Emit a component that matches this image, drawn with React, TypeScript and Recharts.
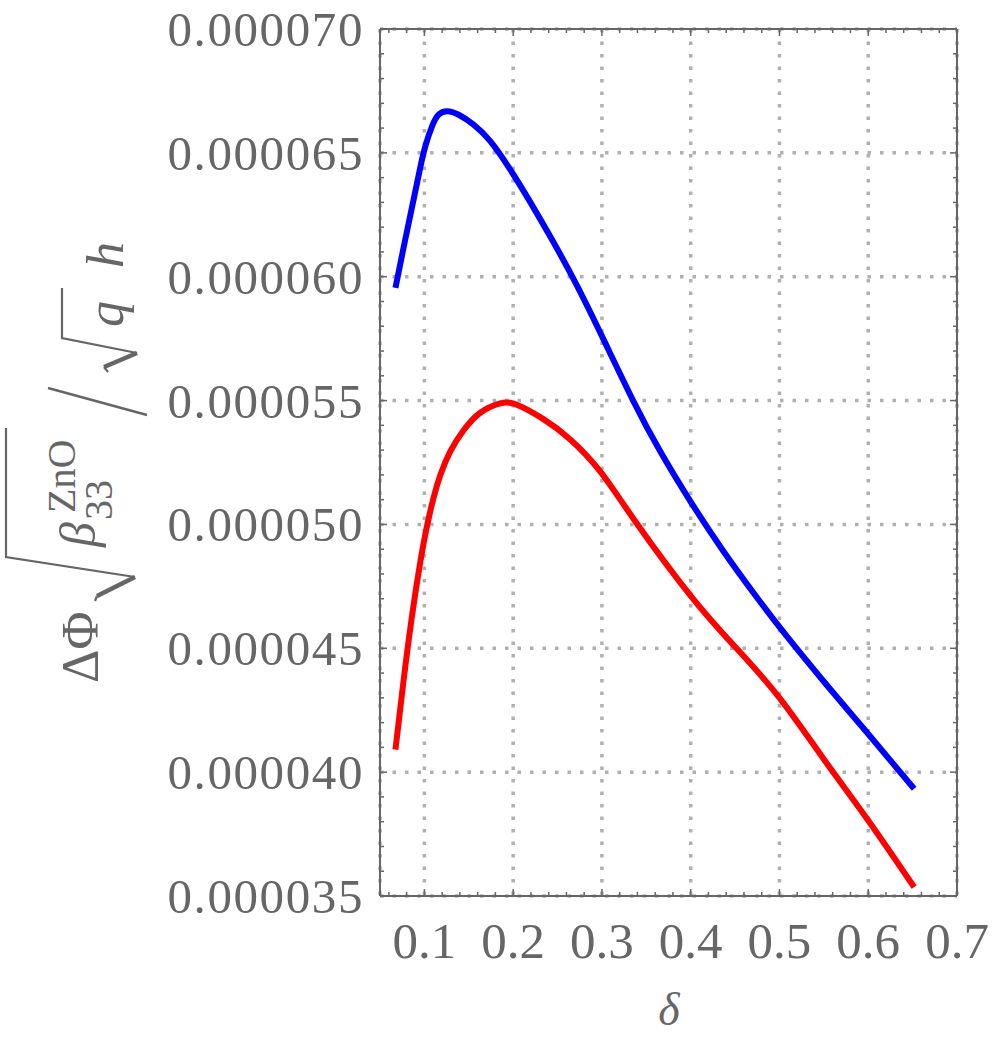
import { LineChart, Line, XAxis, YAxis, CartesianGrid } from "recharts"

// δ positions and values
const blueDelta = [0.0674, 0.0767, 0.088, 0.0955, 0.1011, 0.1086, 0.116, 0.1255, 0.1386, 0.1554, 0.1742, 0.1966, 0.2191, 0.2453, 0.2716, 0.3015, 0.335, 0.365, 0.399, 0.4363, 0.4738, 0.5075, 0.5525, 0.5974, 0.6517]
const blueValue = [59.55e-6, 61.2e-6, 63.14e-6, 64.43e-6, 65.27e-6, 66.07e-6, 66.54e-6, 66.68e-6, 66.54e-6, 66.14e-6, 65.47e-6, 64.33e-6, 63.02e-6, 61.4e-6, 59.66e-6, 57.49e-6, 55.01e-6, 52.99e-6, 50.97e-6, 48.95e-6, 47.09e-6, 45.52e-6, 43.55e-6, 41.65e-6, 39.33e-6]

const redDelta = [0.0674, 0.0767, 0.0862, 0.0955, 0.103, 0.1105, 0.118, 0.1292, 0.1442, 0.1629, 0.1854, 0.2042, 0.2341, 0.264, 0.2978, 0.3375, 0.4, 0.4513, 0.5, 0.55, 0.6, 0.6517]
const redValue = [40.91e-6, 43.74e-6, 46.34e-6, 48.5e-6, 49.94e-6, 51.1e-6, 52.0e-6, 52.95e-6, 53.8e-6, 54.51e-6, 54.89e-6, 54.83e-6, 54.25e-6, 53.44e-6, 52.15e-6, 50.13e-6, 47.12e-6, 45.01e-6, 43.0e-6, 40.52e-6, 38.05e-6, 35.36e-6]

const xTicks = [0.1, 0.2, 0.3, 0.4, 0.5, 0.6, 0.7]
const yTicks = [35e-6, 40e-6, 45e-6, 50e-6, 55e-6, 60e-6, 65e-6, 70e-6]
const xMinorTicks = [0.06, 0.08, 0.1, 0.12, 0.14, 0.16, 0.18, 0.2, 0.22, 0.24, 0.26, 0.28, 0.3, 0.32, 0.34, 0.36, 0.38, 0.4, 0.42, 0.44, 0.46, 0.48, 0.5, 0.52, 0.54, 0.56, 0.58, 0.6, 0.62, 0.64, 0.66, 0.68, 0.7]
const yMinorTicks = [35e-6, 36e-6, 37e-6, 38e-6, 39e-6, 40e-6, 41e-6, 42e-6, 43e-6, 44e-6, 45e-6, 46e-6, 47e-6, 48e-6, 49e-6, 50e-6, 51e-6, 52e-6, 53e-6, 54e-6, 55e-6, 56e-6, 57e-6, 58e-6, 59e-6, 60e-6, 61e-6, 62e-6, 63e-6, 64e-6, 65e-6, 66e-6, 67e-6, 68e-6, 69e-6, 70e-6]

const blueData = blueDelta.map((d, i) => ({ d, v: blueValue[i] }))
const redData = redDelta.map((d, i) => ({ d, v: redValue[i] }))

const TEXT = "#666666"
const serif = { fontFamily: "'Liberation Serif', 'DejaVu Serif', serif" }
const xDomain = [0.05, 0.7]
const yDomain = [35e-6, 70e-6]

const isMajorX = (v: number) => Math.abs(v * 10 - Math.round(v * 10)) < 1e-6
const isMajorY = (v: number) => Math.abs(v * 2e5 - Math.round(v * 2e5)) < 1e-6

// small inward frame ticks, longer on major values
function frameTick(side: string) {
  return (props: any) => {
    const { x, y, payload } = props
    const major = side === "bottom" || side === "top" ? isMajorX(payload.value) : isMajorY(payload.value)
    const len = major ? 7 : 4
    let x2 = x
    let y2 = y
    if (side === "bottom") y2 = y - len
    if (side === "top") y2 = y + len
    if (side === "left") x2 = x + len
    if (side === "right") x2 = x - len
    return <line x1={x} y1={y} x2={x2} y2={y2} stroke={TEXT} strokeWidth={1.5} />
  }
}

const xLabelTick = (props: any) => (
  <text x={props.x} y={props.y + 61} textAnchor="middle" fill={TEXT} style={serif} fontSize={51}>
    {Number(props.payload.value).toFixed(1)}
  </text>
)

const yLabelTick = (props: any) => (
  <text x={props.x - 15} y={props.y + 17} textAnchor="end" fill={TEXT} style={serif} fontSize={49} letterSpacing={1.6}>
    {Number(props.payload.value).toFixed(6)}
  </text>
)

function YLabel() {
  return (
    <g transform="translate(98,683) rotate(-90)" fill={TEXT} style={serif}>
      <text x={0} y={0} fontSize={52}>ΔΦ</text>
      <path d="M 82 -3 L 87 -1" stroke={TEXT} strokeWidth={2.2} fill="none" />
      <path d="M 87 -1 L 106 37" stroke={TEXT} strokeWidth={4.5} fill="none" />
      <path d="M 106 37 L 126 -92 L 255 -92" stroke={TEXT} strokeWidth={2.2} fill="none" />
      <text x={136} y={-3} fontSize={50} fontStyle="italic">β</text>
      <text x={163} y={14} fontSize={40}>33</text>
      <text x={170} y={-23} fontSize={40}>ZnO</text>
      <path d="M 268 49 L 295 -50" stroke={TEXT} strokeWidth={2.5} fill="none" />
      <path d="M 311 10 L 316 6" stroke={TEXT} strokeWidth={2.2} fill="none" />
      <path d="M 316 6 L 330 39" stroke={TEXT} strokeWidth={4.5} fill="none" />
      <path d="M 330 39 L 345 -36 L 395 -36" stroke={TEXT} strokeWidth={2.2} fill="none" />
      <text x={356} y={25} fontSize={52} fontStyle="italic">q</text>
      <text x={415} y={25} fontSize={52} fontStyle="italic">h</text>
    </g>
  )
}

const frameLine = { stroke: TEXT, strokeWidth: 2 }

export default function App() {
  return (
    <div style={{ position: "relative", width: 993, height: 1043 }}>
      <style>{"body{margin:0;overflow:hidden}"}</style>
      <LineChart width={993} height={1043} data={blueData} margin={{ top: 28, right: 35, left: 0, bottom: 0 }}>
        {/* frame axes first so they sit on the plot edge */}
        <XAxis xAxisId="fb" dataKey="d" type="number" orientation="bottom" domain={xDomain} allowDataOverflow ticks={xMinorTicks} interval={0} height={1} tickSize={0} tickMargin={0} tickLine={false} tick={frameTick("bottom")} axisLine={frameLine} />
        <XAxis xAxisId="lx" dataKey="d" type="number" orientation="bottom" domain={xDomain} allowDataOverflow ticks={xTicks} interval={0} height={146} tickSize={0} tickMargin={0} tickLine={false} tick={xLabelTick} axisLine={false} />
        <XAxis xAxisId="ft" dataKey="d" type="number" orientation="top" domain={xDomain} allowDataOverflow ticks={xMinorTicks} interval={0} height={1} tickSize={0} tickMargin={0} tickLine={false} tick={frameTick("top")} axisLine={frameLine} />
        <YAxis yAxisId="fl" type="number" orientation="left" domain={yDomain} allowDataOverflow ticks={yMinorTicks} interval={0} width={1} tickSize={0} tickMargin={0} tickLine={false} tick={frameTick("left")} axisLine={frameLine} />
        <YAxis yAxisId="ly" type="number" orientation="left" domain={yDomain} allowDataOverflow ticks={yTicks} interval={0} width={379} tickSize={0} tickMargin={0} tickLine={false} tick={yLabelTick} axisLine={false} />
        <YAxis yAxisId="fr" type="number" orientation="right" domain={yDomain} allowDataOverflow ticks={yMinorTicks} interval={0} width={1} tickSize={0} tickMargin={0} tickLine={false} tick={frameTick("right")} axisLine={frameLine} />
        <CartesianGrid xAxisId="lx" yAxisId="ly" stroke="#b0b0b0" strokeWidth={3.5} strokeDasharray="3.5 9" />
        <Line xAxisId="lx" yAxisId="ly" data={redData} dataKey="v" type="natural" stroke="#ff0000" strokeWidth={6} dot={false} isAnimationActive={false} />
        <Line xAxisId="lx" yAxisId="ly" data={blueData} dataKey="v" type="natural" stroke="#0000ff" strokeWidth={6} dot={false} isAnimationActive={false} />
      </LineChart>
      <svg width={993} height={1043} style={{ position: "absolute", left: 0, top: 0, pointerEvents: "none" }}>
        <YLabel />
        <text x={669} y={1025} textAnchor="middle" fill={TEXT} style={serif} fontSize={46} fontStyle="italic">δ</text>
      </svg>
    </div>
  )
}
